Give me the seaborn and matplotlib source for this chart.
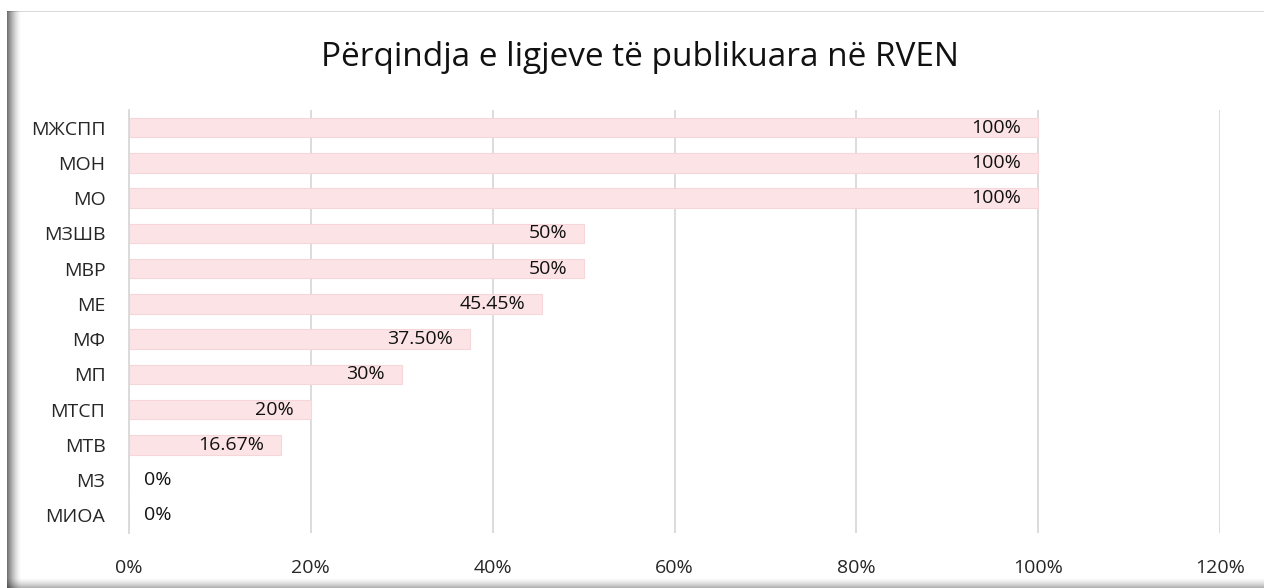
import numpy as np
import pandas as pd
import seaborn as sns
import matplotlib.pyplot as plt
from matplotlib.patches import Rectangle

# Ministrite dhe perqindjet
ministrite = ['МЖСПП', 'МОН', 'МО', 'МЗШВ', 'МВР', 'МЕ', 'МФ', 'МП', 'МТСП', 'МТВ', 'МЗ', 'МИОА']
perqindjet = [100, 100, 100, 50, 50, 45.45, 37.50, 30, 20, 16.67, 0, 0]
etiketat = ['100%', '100%', '100%', '50%', '50%', '45.45%', '37.50%', '30%', '20%', '16.67%', '0%', '0%']
xticks = [0, 20, 40, 60, 80, 100, 120]

df = pd.DataFrame({'Ministria': ministrite, 'Perqindja': perqindjet})

sns.set_style('white')
plt.rcParams['font.family'] = ['Open Sans', 'DejaVu Sans']

W, H = 1264, 588
fig = plt.figure(figsize=(W / 100, H / 100), dpi=100)

# korniza me hije (majtas dhe poshte)
bg = fig.add_axes([0, 0, 1, 1], zorder=-5)
bg.set_xlim(0, W)
bg.set_ylim(H, 0)
bg.axis('off')
bg.add_patch(Rectangle((7, 11), W - 7, 1, color='#d9d9d9', lw=0))
for i in range(14):
    a = 0.55 * (1 - i / 14) ** 1.5
    bg.add_patch(Rectangle((7 + i, 11), 1, H - 11, color='black', alpha=a, lw=0))
for i in range(11):
    a = 0.35 * (i / 11) ** 1.5
    bg.add_patch(Rectangle((7, 577 + i), W - 7, 1, color='black', alpha=a, lw=0))

ax = fig.add_axes([129 / W, 1 - 533 / H, (1220 - 129) / W, (533 - 110) / H])
sns.barplot(x='Perqindja', y='Ministria', data=df, orient='h', color='#fce4e6',
            edgecolor='#f7d6d9', linewidth=0.8, width=0.55, saturation=1, ax=ax, zorder=2)

fs = 14
for i, (v, t) in enumerate(zip(perqindjet, etiketat)):
    if v > 0:
        ax.annotate(t, (v, i), xytext=(-12, 0), textcoords='offset points',
                    ha='right', va='center', fontsize=fs, color='#111111', zorder=3)
    else:
        ax.annotate(t, (v, i), xytext=(11, 0), textcoords='offset points',
                    ha='left', va='center', fontsize=fs, color='#111111', zorder=3)

ax.set_xlim(0, 120)
ax.set_xticks(xticks)
ax.set_xticklabels([f'{x}%' for x in xticks], fontsize=fs)
ax.tick_params(axis='x', length=0, pad=19)
ax.tick_params(axis='y', length=0, pad=17, labelsize=fs)
ax.grid(axis='x', color='#d9d9d9', linewidth=1.3, zorder=0)
ax.set_axisbelow(True)
for s in ['top', 'right', 'bottom']:
    ax.spines[s].set_visible(False)
ax.spines['left'].set_color('#d9d9d9')
ax.spines['left'].set_linewidth(1.3)
ax.set_xlabel('')
ax.set_ylabel('')

fig.text(0.506, 1 - 58 / H, 'Përqindja e ligjeve të publikuara në RVEN', ha='center', va='center',
         fontsize=24, color='#111111')

fig.savefig('out.png', dpi=100, facecolor='white')
